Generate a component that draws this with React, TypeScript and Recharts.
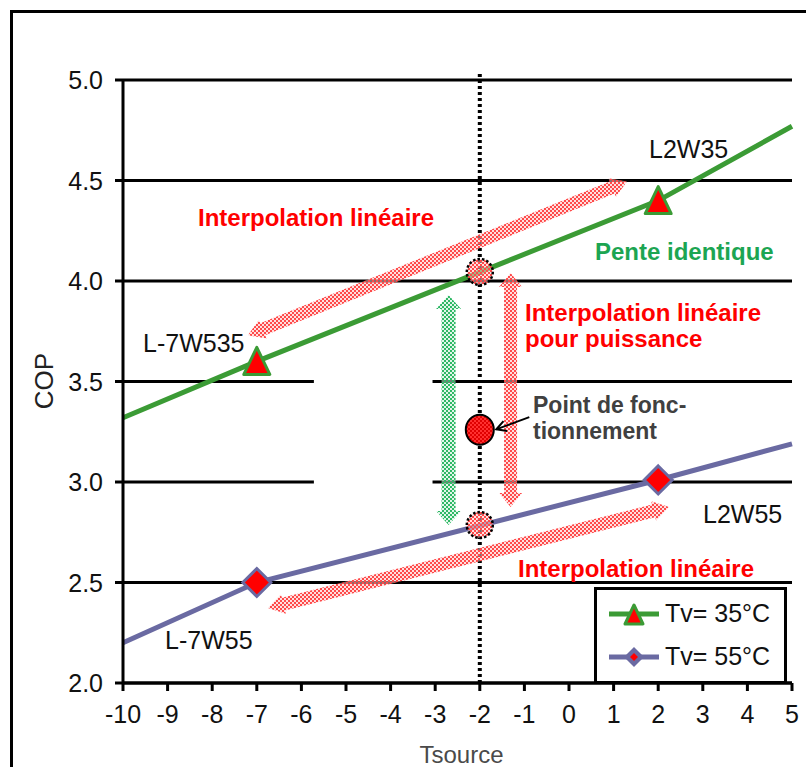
import React from 'react';
import {
    LineChart,
    Line,
    XAxis,
    YAxis,
    CartesianGrid,
    ReferenceLine,
    ReferenceDot,
    ReferenceArea,
    Legend,
} from 'recharts';

// source temperature (°C) and COP readings
const tsource = [-10, -7, 2, 5];
const copTv35 = [3.32, 3.6, 4.4, 4.77];
const copTv55 = [2.2, 2.5, 3.01, 3.19];
const measuredTemps = [-7, 2];

const xTicks = [-10, -9, -8, -7, -6, -5, -4, -3, -2, -1, 0, 1, 2, 3, 4, 5];
const yTicks = [2.0, 2.5, 3.0, 3.5, 4.0, 4.5, 5.0];

const operatingTemp = -2;
const operatingCop = 3.26;
const crossTv35 = 4.045;
const crossTv55 = 2.786;

const data = tsource.map((t, i) => ({ t, tv35: copTv35[i], tv55: copTv55[i] }));

const FONT = "'Liberation Sans', Arial, sans-serif";
const GREEN = '#3b9b35';
const PURPLE = '#6a6aa2';
const RED_TEXT = '#ff0000';

const series = [
    { key: 'tv35', label: 'Tv= 35°C', color: GREEN, marker: 'triangle' },
    { key: 'tv55', label: 'Tv= 55°C', color: PURPLE, marker: 'diamond' },
];

// annotation arrows, [x1, y1, x2, y2] in data units
const redArrows = [
    [-7.2, 3.73, 1.3, 4.495],
    [-6.75, 2.373, 2.245, 2.876],
];
const redVertical = [-1.31, 4.04, -1.31, 2.876];
const greenVertical = [-2.7, 3.93, -2.7, 2.786];

function arrowPoints(x1: number, y1: number, x2: number, y2: number, shaft: number, head: number, headLen: number) {
    const dx = x2 - x1;
    const dy = y2 - y1;
    const len = Math.hypot(dx, dy) || 1;
    const ux = dx / len;
    const uy = dy / len;
    const nx = -uy;
    const ny = ux;
    const b1x = x1 + ux * headLen;
    const b1y = y1 + uy * headLen;
    const b2x = x2 - ux * headLen;
    const b2y = y2 - uy * headLen;
    const pts = [
        [x1, y1],
        [b1x + nx * head, b1y + ny * head],
        [b1x + nx * shaft, b1y + ny * shaft],
        [b2x + nx * shaft, b2y + ny * shaft],
        [b2x + nx * head, b2y + ny * head],
        [x2, y2],
        [b2x - nx * head, b2y - ny * head],
        [b2x - nx * shaft, b2y - ny * shaft],
        [b1x - nx * shaft, b1y - ny * shaft],
        [b1x - nx * head, b1y - ny * head],
    ];
    return pts.map((p) => p.join(',')).join(' ');
}

const makeArrow = (fill: string, shaft: number, head: number, headLen: number) => (props: any) => (
    <polygon
        points={arrowPoints(props.x1, props.y1, props.x2, props.y2, shaft, head, headLen)}
        fill={fill}
    />
);

const pointerArrow = (props: any) => {
    const { x1, y1, x2, y2 } = props;
    const a = Math.atan2(y2 - y1, x2 - x1);
    const l = 11;
    const s = 0.5;
    return (
        <g stroke="#000" strokeWidth={2} fill="none">
            <line x1={x1} y1={y1} x2={x2} y2={y2} />
            <polyline
                points={`${x2 - l * Math.cos(a - s)},${y2 - l * Math.sin(a - s)} ${x2},${y2} ${x2 - l * Math.cos(a + s)},${y2 - l * Math.sin(a + s)}`}
            />
        </g>
    );
};

function Triangle({ cx, cy, size = 13, color = GREEN }: any) {
    return (
        <polygon
            points={`${cx},${cy - size - 1} ${cx + size},${cy + size} ${cx - size},${cy + size}`}
            fill="#ff0000"
            stroke={color}
            strokeWidth={3}
            strokeLinejoin="round"
        />
    );
}

function Diamond({ cx, cy, size = 14, color = PURPLE }: any) {
    return (
        <polygon
            points={`${cx},${cy - size} ${cx + size},${cy} ${cx},${cy + size} ${cx - size},${cy}`}
            fill="#ff0000"
            stroke={color}
            strokeWidth={3}
        />
    );
}

const dotFor = (marker: string) => (props: any) => {
    const { cx, cy, payload, index } = props;
    if (!measuredTemps.includes(payload.t)) return <g key={`d-${marker}-${index}`} />;
    return marker === 'triangle' ? (
        <Triangle key={`d-${marker}-${index}`} cx={cx} cy={cy} />
    ) : (
        <Diamond key={`d-${marker}-${index}`} cx={cx} cy={cy} />
    );
};

const XTick = ({ x, y, payload }: any) => (
    <text x={x} y={y + 30} textAnchor="middle" fontSize={25} fontFamily={FONT} fill="#111">
        {payload.value}
    </text>
);

const YTick = ({ x, y, payload }: any) => (
    <text x={x - 10} y={y + 9} textAnchor="end" fontSize={25} fontFamily={FONT} fill="#111">
        {Number(payload.value).toFixed(1)}
    </text>
);

const LegendBox = () => (
    <div
        style={{
            width: 193,
            height: 97,
            boxSizing: 'border-box',
            border: '3px solid #000',
            background: '#fff',
            fontFamily: FONT,
        }}
    >
        {series.map((s, i) => (
            <div key={s.key} style={{ display: 'flex', alignItems: 'center', height: 43, marginTop: i === 0 ? 2 : 0 }}>
                <svg width={68} height={30} style={{ flex: 'none' }}>
                    <line x1={12} y1={15} x2={62} y2={15} stroke={s.color} strokeWidth={5} />
                    {s.marker === 'triangle' ? (
                        <Triangle cx={37} cy={16} size={9} />
                    ) : (
                        <g>
                            <polygon points="37,5 47,15 37,25 27,15" fill={PURPLE} />
                            <polygon points="37,11 41,15 37,19 33,15" fill="#ff0000" />
                        </g>
                    )}
                </svg>
                <span style={{ fontSize: 25, color: '#111', whiteSpace: 'nowrap' }}>{s.label}</span>
            </div>
        ))}
    </div>
);

const labels = [
    { text: 'L2W35', x: 649, y: 158, size: 25, weight: 400, color: '#111' },
    { text: 'Interpolation linéaire', x: 198, y: 226, size: 24, weight: 700, color: RED_TEXT },
    { text: 'Pente identique', x: 595, y: 260, size: 24, weight: 700, color: '#1ca552' },
    { text: 'L-7W535', x: 143, y: 352, size: 25, weight: 400, color: '#111' },
    { text: 'Interpolation linéaire', x: 525, y: 321, size: 24, weight: 700, color: RED_TEXT },
    { text: 'pour puissance', x: 525, y: 347, size: 24, weight: 700, color: RED_TEXT },
    { text: 'Point de fonc-', x: 533, y: 413, size: 23, weight: 700, color: '#404040' },
    { text: 'tionnement', x: 533, y: 439, size: 23, weight: 700, color: '#404040' },
    { text: 'L2W55', x: 703, y: 523, size: 25, weight: 400, color: '#111' },
    { text: 'Interpolation linéaire', x: 518, y: 577, size: 24, weight: 700, color: RED_TEXT },
    { text: 'L-7W55', x: 165, y: 649, size: 25, weight: 400, color: '#111' },
];

export default function App() {
    return (
        <div style={{ position: 'absolute', left: 0, top: 0, width: 806, height: 767, overflow: 'hidden', background: '#fff' }}>
            <div
                style={{
                    position: 'absolute',
                    left: 10,
                    top: 10,
                    width: 820,
                    height: 800,
                    border: '3px solid #000',
                }}
            />
            <svg width={0} height={0} style={{ position: 'absolute' }}>
                <defs>
                    <pattern id="pinkDither" width={4} height={4} patternUnits="userSpaceOnUse">
                        <rect width={4} height={4} fill="#ffc4c4" fillOpacity={0.55} />
                        <rect x={0} y={0} width={2} height={2} fill="#ff4a4a" />
                        <rect x={2} y={2} width={2} height={2} fill="#ff4a4a" />
                    </pattern>
                    <pattern id="greenDither" width={4} height={4} patternUnits="userSpaceOnUse">
                        <rect width={4} height={4} fill="#c8eed6" fillOpacity={0.55} />
                        <rect x={0} y={0} width={2} height={2} fill="#2fb866" />
                        <rect x={2} y={2} width={2} height={2} fill="#2fb866" />
                    </pattern>
                    <pattern id="redDither" width={4} height={4} patternUnits="userSpaceOnUse">
                        <rect width={4} height={4} fill="#ff3030" />
                        <rect x={0} y={0} width={2} height={2} fill="#e00000" />
                        <rect x={2} y={2} width={2} height={2} fill="#e00000" />
                    </pattern>
                </defs>
            </svg>
            <div style={{ position: 'absolute', left: 0, top: 0 }}>
                <LineChart width={806} height={767} data={data} margin={{ top: 80, right: 14, bottom: 34, left: 63 }}>
                    <CartesianGrid horizontal vertical={false} stroke="#000" strokeWidth={3} />
                    <ReferenceArea x1={-5.72} x2={-3.06} y1={2.93} y2={3.57} fill="#fff" fillOpacity={1} stroke="none" />
                    <XAxis
                        dataKey="t"
                        type="number"
                        domain={[-10, 5]}
                        ticks={xTicks}
                        interval={0}
                        height={50}
                        axisLine={{ stroke: '#000', strokeWidth: 3 }}
                        tickLine={{ stroke: '#000', strokeWidth: 3 }}
                        tickSize={8}
                        tick={<XTick />}
                        label={{
                            content: (p: any) => (
                                <text
                                    x={p.viewBox.x + p.viewBox.width / 2 + 4}
                                    y={763}
                                    textAnchor="middle"
                                    fontSize={24}
                                    fontFamily={FONT}
                                    fill="#4a4a4a"
                                >
                                    Tsource
                                </text>
                            ),
                        }}
                    />
                    <YAxis
                        type="number"
                        domain={[2, 5]}
                        ticks={yTicks}
                        interval={0}
                        width={60}
                        axisLine={{ stroke: '#000', strokeWidth: 3 }}
                        tickLine={{ stroke: '#000', strokeWidth: 3 }}
                        tickSize={8}
                        tick={<YTick />}
                        label={{
                            content: () => (
                                <text
                                    x={53}
                                    y={381}
                                    transform="rotate(-90 53 381)"
                                    textAnchor="middle"
                                    fontSize={26}
                                    fontFamily={FONT}
                                    fill="#222"
                                >
                                    COP
                                </text>
                            ),
                        }}
                    />
                    <ReferenceLine
                        segment={[{ x: operatingTemp, y: 2 }, { x: operatingTemp, y: 5.03 }]}
                        stroke="#000"
                        strokeWidth={4}
                        strokeDasharray="3 3"
                        ifOverflow="visible"
                    />
                    {series.map((s) => (
                        <Line
                            key={s.key}
                            dataKey={s.key}
                            stroke={s.color}
                            strokeWidth={5}
                            dot={dotFor(s.marker)}
                            activeDot={false}
                            isAnimationActive={false}
                        />
                    ))}
                    {redArrows.map((a, i) => (
                        <ReferenceLine
                            key={`ra-${i}`}
                            segment={[{ x: a[0], y: a[1] }, { x: a[2], y: a[3] }]}
                            shape={makeArrow('url(#pinkDither)', 6.5, 10, 16)}
                            ifOverflow="visible"
                        />
                    ))}
                    <ReferenceLine
                        segment={[{ x: redVertical[0], y: redVertical[1] }, { x: redVertical[2], y: redVertical[3] }]}
                        shape={makeArrow('url(#pinkDither)', 6.5, 11.5, 14)}
                        ifOverflow="visible"
                    />
                    <ReferenceLine
                        segment={[{ x: greenVertical[0], y: greenVertical[1] }, { x: greenVertical[2], y: greenVertical[3] }]}
                        shape={makeArrow('url(#greenDither)', 7, 12.5, 14)}
                        ifOverflow="visible"
                    />
                    {[crossTv35, crossTv55].map((c) => (
                        <ReferenceDot
                            key={`c-${c}`}
                            x={operatingTemp}
                            y={c}
                            r={13}
                            fill="url(#pinkDither)"
                            stroke="#000"
                            strokeWidth={2.5}
                            strokeDasharray="2.5 2"
                        />
                    ))}
                    <ReferenceDot
                        x={operatingTemp}
                        y={operatingCop}
                        r={14}
                        shape={(p: any) => (
                            <ellipse cx={p.cx} cy={p.cy} rx={14} ry={15} fill="url(#redDither)" stroke="#000" strokeWidth={2} />
                        )}
                    />
                    <ReferenceLine
                        segment={[{ x: -0.89, y: 3.323 }, { x: -1.63, y: 3.262 }]}
                        shape={pointerArrow}
                        ifOverflow="visible"
                    />
                    <Legend
                        layout="vertical"
                        align="center"
                        verticalAlign="middle"
                        content={<LegendBox />}
                        wrapperStyle={{ position: 'absolute', left: 594, top: 587, width: 193, height: 97 }}
                    />
                </LineChart>
            </div>
            <svg width={806} height={767} style={{ position: 'absolute', left: 0, top: 0, pointerEvents: 'none' }}>
                {labels.map((l, i) => (
                    <text key={i} x={l.x} y={l.y} fontSize={l.size} fontWeight={l.weight} fill={l.color} fontFamily={FONT}>
                        {l.text}
                    </text>
                ))}
            </svg>
        </div>
    );
}
